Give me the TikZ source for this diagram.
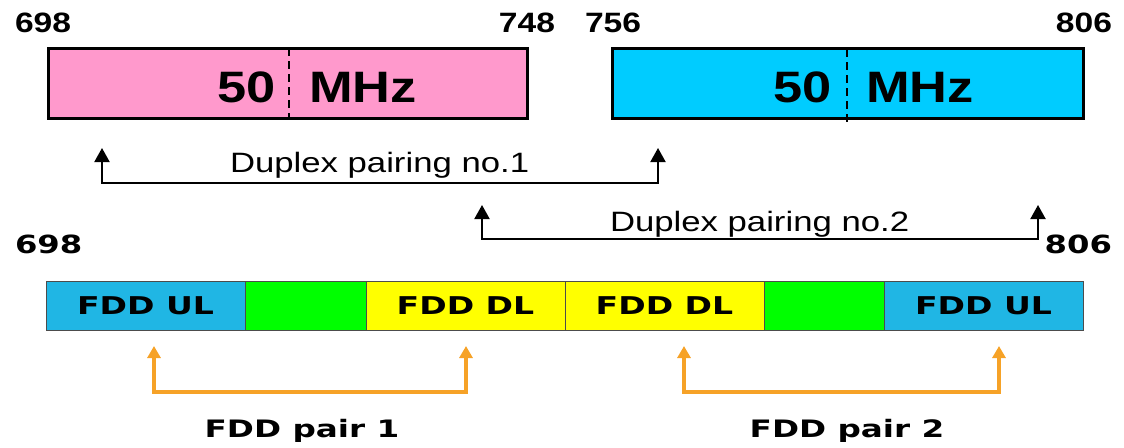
\documentclass[tikz,border=0pt]{standalone}
\usepackage{fontspec}
\usepackage{graphicx}
\usetikzlibrary{arrows.meta}
\newfontfamily\lsans{Liberation Sans}
\newfontfamily\dvs{DejaVu Sans}
\definecolor{pinkc}{HTML}{FF99CC}
\definecolor{cyanc}{HTML}{00CCFF}
\definecolor{ulblue}{HTML}{20B6E4}
\definecolor{greenc}{HTML}{00FF00}
\definecolor{yellowc}{HTML}{FFFF00}
\definecolor{orangec}{HTML}{F6A227}
\newcommand\ftxt[4]{{#1\fontsize{#2}{#2}\selectfont\scalebox{#3}[1]{#4}}}
\newcommand\bigtxt[1]{\ftxt{\lsans\bfseries}{44}{1.19}{#1}}
\newcommand\toplbl[1]{\ftxt{\lsans\bfseries}{28}{1.2}{#1}}
\newcommand\duptxt[1]{\ftxt{\lsans}{28}{1.24}{#1}}
\newcommand\seglbl[1]{\ftxt{\dvs\bfseries}{24.5}{1.35}{#1}}
\newcommand\pairlbl[1]{\ftxt{\dvs\bfseries}{24}{1.36}{#1}}
\begin{document}
\begin{tikzpicture}[x=1pt,y=-1pt,
  lbl/.style={inner sep=0pt, outer sep=0pt},
  bandbox/.style={draw=black, line width=3pt, inner sep=0pt, minimum height=70pt},
  seg/.style={draw=black!70, line width=1pt, inner sep=0pt, minimum height=49pt},
  midline/.style={draw=black, line width=2.5pt, dash pattern=on 8pt off 5pt},
  darr/.style={draw=black, line width=2pt,
    {Triangle[width=15pt,length=14pt]}-{Triangle[width=15pt,length=14pt]}},
  oarr/.style={draw=orangec, line width=3.5pt,
    {Triangle[width=13pt,length=12pt]}-{Triangle[width=13pt,length=12pt]}}]
\useasboundingbox (0,0) rectangle (1124,447);

% top bands
\node[bandbox, fill=pinkc, minimum width=479pt] (pink) at (287.5,83) {};
\node[bandbox, fill=cyanc, minimum width=471pt] (cyan) at (847.5,83) {};
\coordinate (pd1) at (289,48); \coordinate (pd2) at (289,118);
\coordinate (cd1) at (847,49); \coordinate (cd2) at (847,124);
\draw[midline] (pd1) -- (pd2);
\draw[midline] (cd1) -- (cd2);
\node[lbl, anchor=base east] (p50) at (276,102) {\bigtxt{50}};
\node[lbl, anchor=base west] (pmhz) at (309,102) {\bigtxt{MHz}};
\node[lbl, anchor=base east] (c50) at (832,102) {\bigtxt{50}};
\node[lbl, anchor=base west] (cmhz) at (866,102) {\bigtxt{MHz}};

% top frequency labels
\node[lbl, anchor=base west] (t698) at (15,32) {\toplbl{698}};
\node[lbl, anchor=base east] (t748) at (555,32) {\toplbl{748}};
\node[lbl, anchor=base west] (t756) at (585,32) {\toplbl{756}};
\node[lbl, anchor=base east] (t806) at (1112,32) {\toplbl{806}};

% duplex pairings
\coordinate (d1a) at (102,148); \coordinate (d1b) at (658,148);
\coordinate (d1c) at (102,183); \coordinate (d1d) at (658,183);
\draw[darr] (d1a) -- (d1c) -- (d1d) -- (d1b);
\node[lbl, anchor=base west] (dup1) at (230,172) {\duptxt{Duplex pairing no.1}};
\coordinate (d2a) at (482,205); \coordinate (d2b) at (1038,205);
\coordinate (d2c) at (482,239); \coordinate (d2d) at (1038,239);
\draw[darr] (d2a) -- (d2c) -- (d2d) -- (d2b);
\node[lbl, anchor=base west] (dup2) at (610,231) {\duptxt{Duplex pairing no.2}};

% lower frequency labels
\node[lbl, anchor=base west] (b698) at (15,253) {\ftxt{\dvs\bfseries}{25}{1.29}{698}};
\node[lbl, anchor=base east] (b806) at (1112,253) {\ftxt{\dvs\bfseries}{25}{1.29}{806}};

% lower band plan
\node[seg, fill=ulblue, minimum width=199pt] (s1) at (145.5,306) {\seglbl{FDD UL}};
\node[seg, fill=greenc, minimum width=121pt] (s2) at (305.5,306) {};
\node[seg, fill=yellowc, minimum width=199pt] (s3) at (465.5,306) {\seglbl{FDD DL}};
\node[seg, fill=yellowc, minimum width=199pt] (s4) at (664.5,306) {\seglbl{FDD DL}};
\node[seg, fill=greenc, minimum width=120pt] (s5) at (824,306) {};
\node[seg, fill=ulblue, minimum width=199pt] (s6) at (983.5,306) {\seglbl{FDD UL}};

% FDD pairs
\coordinate (o1a) at (154,346); \coordinate (o1b) at (466,346);
\coordinate (o1c) at (154,392); \coordinate (o1d) at (466,392);
\draw[oarr] (o1a) -- (o1c) -- (o1d) -- (o1b);
\coordinate (o2a) at (684,346); \coordinate (o2b) at (999,346);
\coordinate (o2c) at (684,392); \coordinate (o2d) at (999,392);
\draw[oarr] (o2a) -- (o2c) -- (o2d) -- (o2b);
\node[lbl, anchor=base] (fp1) at (302,437) {\pairlbl{FDD pair 1}};
\node[lbl, anchor=base] (fp2) at (847,437) {\pairlbl{FDD pair 2}};
\end{tikzpicture}
\end{document}
